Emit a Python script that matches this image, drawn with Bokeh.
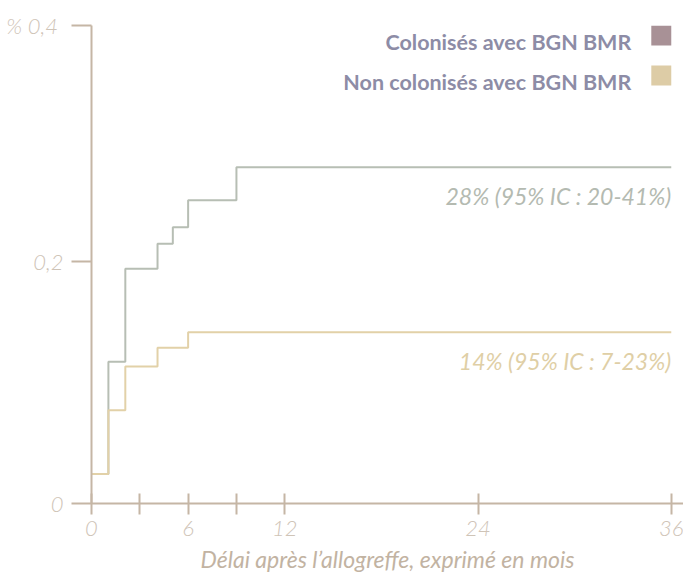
from bokeh.plotting import figure
from bokeh.models import Range1d, FixedTicker, Label, BoxAnnotation
from bokeh.embed import file_html
from bokeh.resources import INLINE

# Cumulative incidence (fraction) by months after allograft
months_colonised = [0, 1.05, 2.1, 4.1, 5.05, 6.0, 9.0, 36]
incidence_colonised = [0.02, 0.115, 0.194, 0.215, 0.229, 0.252, 0.28, 0.28]

months_non_colonised = [0, 1.05, 2.1, 4.1, 6.0, 36]
incidence_non_colonised = [0.02, 0.074, 0.111, 0.127, 0.14, 0.14]

series_names = ["Colonisés avec BGN BMR", "Non colonisés avec BGN BMR"]
final_labels = ["28% (95% IC : 20-41%)", "14% (95% IC : 7-23%)"]

x_ticks = [0, 3, 6, 9, 12, 24, 36]
x_tick_labels = ["0", "", "6", "", "12", "24", "36"]
y_ticks = [-0.005, 0.2, 0.4]
y_tick_labels = ["0", "0,2", "%  0,4"]

AXIS = "#c5b6a5"
TICK_TEXT = "#cfc4b7"
GREY_LINE = "#b7beb4"
BEIGE_LINE = "#e2d1a8"
LEGEND_TEXT = "#8d8ca6"
SWATCHES = ["#a89196", "#ddcca6"]
FONT = "Lato"

p = figure(width=683, height=576, output_backend="svg", toolbar_location=None,
           x_range=Range1d(0, 36.76), y_range=Range1d(-0.005, 0.4),
           min_border_left=91, min_border_right=0, min_border_top=25,
           min_border_bottom=73)
p.outline_line_color = None
p.grid.visible = False
p.background_fill_color = "white"
p.border_fill_color = "white"

# x axis
xa = p.xaxis[0]
xa.ticker = FixedTicker(ticks=x_ticks)
xa.major_label_overrides = {t: l for t, l in zip(x_ticks, x_tick_labels)}
xa.axis_line_color = AXIS
xa.axis_line_width = 2
xa.major_tick_line_color = AXIS
xa.major_tick_line_width = 2
xa.major_tick_in = 10
xa.major_tick_out = 11
xa.minor_tick_line_color = None
xa.major_label_text_font = "Lato Light, Lato"
xa.major_label_text_font_style = "italic"
xa.major_label_text_font_size = "22px"
xa.major_label_text_color = TICK_TEXT
xa.major_label_standoff = 6
xa.axis_label = "Délai après l’allogreffe, exprimé en mois"
xa.axis_label_text_font = FONT
xa.axis_label_text_font_style = "italic"
xa.axis_label_text_font_size = "23px"
xa.axis_label_text_color = "#c2b3a2"
xa.axis_label_standoff = 6

# y axis
ya = p.yaxis[0]
ya.ticker = FixedTicker(ticks=y_ticks)
ya.major_label_overrides = {t: l for t, l in zip(y_ticks, y_tick_labels)}
ya.axis_line_color = AXIS
ya.axis_line_width = 2
ya.major_tick_line_color = AXIS
ya.major_tick_line_width = 2
ya.major_tick_in = 0
ya.major_tick_out = 20
ya.minor_tick_line_color = None
ya.major_label_text_font = "Lato Light, Lato"
ya.major_label_text_font_style = "italic"
ya.major_label_text_font_size = "22px"
ya.major_label_text_color = TICK_TEXT
ya.major_label_standoff = 8

# step curves
p.step(months_colonised, incidence_colonised, mode="after",
       line_color=GREY_LINE, line_width=2)
p.step(months_non_colonised, incidence_non_colonised, mode="after",
       line_color=BEIGE_LINE, line_width=2)

# final value annotations
for val, text, col in [(incidence_colonised[-1], final_labels[0], "#b4bab1"),
                       (incidence_non_colonised[-1], final_labels[1], "#dfcfa6")]:
    p.add_layout(Label(x=36, y=val, y_offset=-29, text=text, text_align="right",
                       text_baseline="middle", text_font=FONT,
                       text_font_style="italic", text_font_size="23px",
                       text_color=col))

# legend: label to the left of a square swatch
legend_rows = [(0.4, 0.3864), (0.3661, 0.352)]
for (top, ymid), name, sw in zip(legend_rows, series_names, SWATCHES):
    p.add_layout(Label(x=36, y=ymid, x_offset=-40, text=name, text_align="right",
                       text_baseline="middle", text_font=FONT,
                       text_font_style="bold", text_font_size="21.5px",
                       text_color=LEGEND_TEXT))
    p.add_layout(BoxAnnotation(left=34.76, right=36, top=top, bottom=top - 0.017,
                               fill_color=sw, fill_alpha=1, line_color=None))

open("out.html", "w").write(file_html(p, INLINE))
